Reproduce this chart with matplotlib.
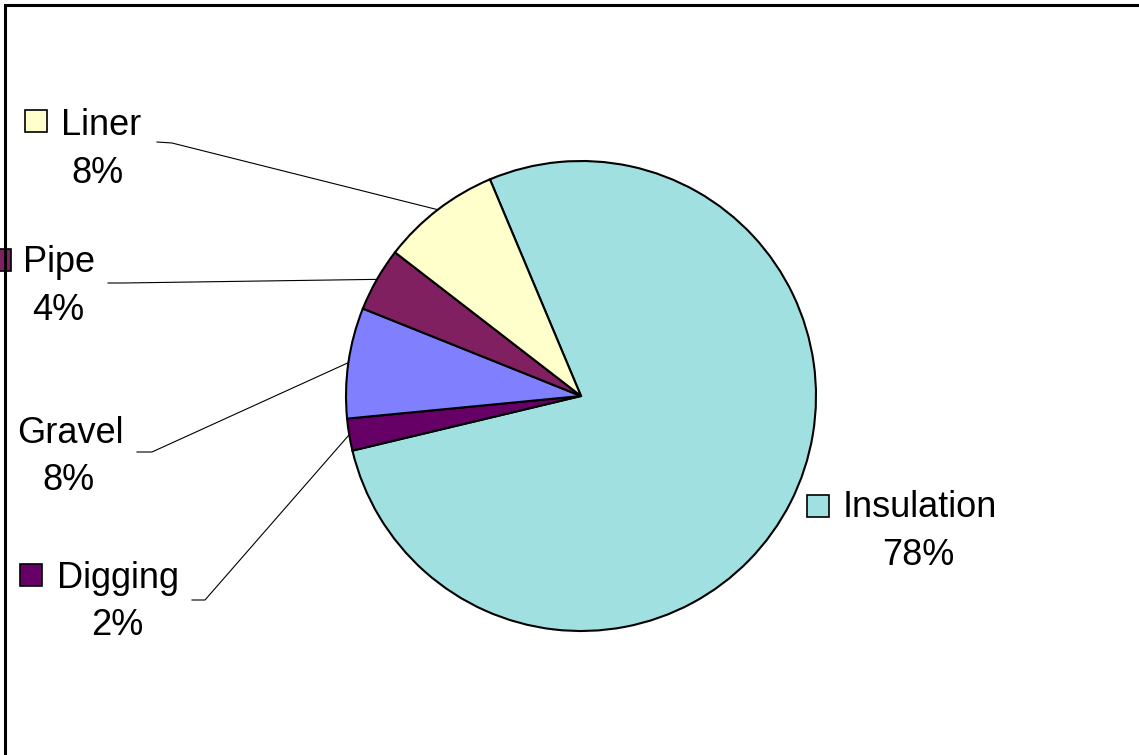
import numpy as np
import matplotlib
matplotlib.use('Agg')
import matplotlib.pyplot as plt
from matplotlib.patches import Rectangle

plt.rcParams['font.family'] = ['Liberation Sans', 'DejaVu Sans']

# cost shares, clockwise from the first slice
categories = ['Insulation', 'Digging', 'Gravel', 'Pipe', 'Liner']
shares = [77.6, 2.2, 7.6, 4.4, 8.2]
colors = ['#A0E0E0', '#660066', '#8080FF', '#802060', '#FFFFCC']

W, H = 1139, 755

fig = plt.figure(figsize=(W / 100, H / 100), dpi=100)
ax = fig.add_axes([0, 0, 1, 1])
ax.set_xlim(0, W)
ax.set_ylim(0, H)
ax.axis('off')

cx, cy, r = 581, H - 396, 235
wedges, _ = ax.pie(shares, colors=colors, startangle=112.8, counterclock=False,
                   center=(cx, cy), radius=r, frame=True,
                   wedgeprops=dict(edgecolor='black', linewidth=1.5))
ax.set_xlim(0, W)
ax.set_ylim(0, H)
ax.axis('off')

# label layout in pixel coords (y measured from the top)
layout = {
    'Insulation': dict(name=(920, 517), pct=(918, 565), key=(807, 495), lead=None),
    'Digging': dict(name=(118, 588), pct=(117, 635), key=(20, 564), lead=[(192, 600), (205, 600)]),
    'Gravel': dict(name=(70, 443), pct=(68, 490), key=None, lead=[(137, 452), (152, 452)]),
    'Pipe': dict(name=(59, 272), pct=(58, 320), key=(-11, 249), lead=[(108, 283), (123, 283)]),
    'Liner': dict(name=(101, 135), pct=(97, 183), key=(25, 110), lead=[(157, 142), (172, 143)]),
}

for w, name, val, col in zip(wedges, categories, shares, colors):
    lay = layout[name]
    ax.text(lay['name'][0], H - lay['name'][1], name, fontsize=26,
            ha='center', va='baseline')
    ax.text(lay['pct'][0], H - lay['pct'][1], f'{val:.0f}%', fontsize=26,
            ha='center', va='baseline')
    if lay['key'] is not None:
        kx, ky = lay['key']
        ax.add_patch(Rectangle((kx, H - ky - 22), 22, 22, facecolor=col,
                               edgecolor='black', linewidth=1.2, zorder=3))
    if lay['lead'] is not None:
        mid = np.deg2rad((w.theta1 + w.theta2) / 2)
        ex, ey = cx + r * np.cos(mid), cy + r * np.sin(mid)
        (x0, y0), (x1, y1) = lay['lead']
        ax.plot([x0, x1, ex], [H - y0, H - y1, ey], color='black', lw=0.8, zorder=1)

# chart area border
ax.plot([5, 5, W + 5], [-5, H - 5, H - 5], color='black', lw=2.2, zorder=5,
        solid_joinstyle='miter')

fig.savefig('out.png', dpi=100, facecolor='white')
